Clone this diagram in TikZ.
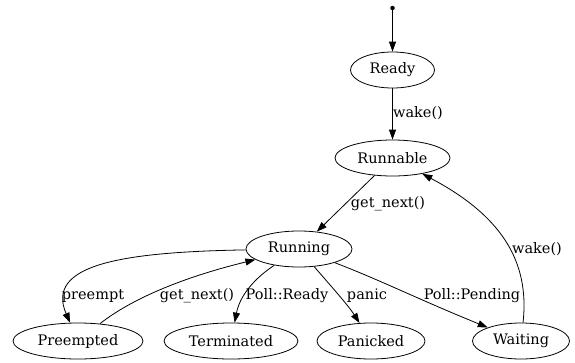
\documentclass[tikz,border=0pt]{standalone}
\usepackage{fontspec}
\setmainfont{DejaVu Serif}
\usetikzlibrary{shapes.geometric,arrows.meta}
\begin{document}
\begin{tikzpicture}[x=1pt,y=-1pt,
  state/.style={draw,ellipse,inner sep=0pt,line width=0.8pt,minimum height=36pt,font=\fontsize{14.5}{16}\selectfont},
  lbl/.style={font=\fontsize{14.5}{16}\selectfont,inner sep=0pt},
  edge/.style={draw,line width=0.8pt,-{Triangle[length=10pt,width=7pt]}}]
\useasboundingbox (0,0) rectangle (575,362);
\node[circle,fill,inner sep=0pt,minimum size=4.5pt] (start) at (392.5,8) {};
\node[state,minimum width=84pt] (ready) at (392.5,70) {Ready};
\node[state,minimum width=115pt] (runnable) at (392.5,158) {Runnable};
\node[state,minimum width=106pt] (running) at (299,249) {Running};
\node[state,minimum width=130pt] (preempted) at (78,341) {Preempted};
\node[state,minimum width=134pt] (terminated) at (231,341) {Terminated};
\node[state,minimum width=108pt] (panicked) at (371,341) {Panicked};
\node[state,minimum width=97pt] (waiting) at (521,341) {Waiting};

\path[edge] (start) -- (ready);
\path[edge] (ready) -- (runnable) node[lbl] (l1) at (418,113) {wake()};
\path[edge] (runnable) -- (running) node[lbl] (l2) at (388,204) {get\_next()};
\path[edge] (running) .. controls (120,252) and (45,265) .. (preempted) node[lbl] (l3) at (93,296) {preempt};
\path[edge] (preempted) .. controls (130,300) and (180,278) .. (running) node[lbl] (l4) at (197,296) {get\_next()};
\path[edge] (running) .. controls (255,278) and (240,295) .. (terminated) node[lbl] (l5) at (287,296) {Poll::Ready};
\path[edge] (running) .. controls (330,285) and (348,305) .. (panicked) node[lbl] (l6) at (367,296) {panic};
\path[edge] (running) .. controls (380,280) and (420,300) .. (waiting) node[lbl] (l7) at (472,296) {Poll::Pending};
\path[edge] (waiting) .. controls (530,260) and (500,215) .. (runnable) node[lbl] (l8) at (537,249) {wake()};
\end{tikzpicture}
\end{document}
